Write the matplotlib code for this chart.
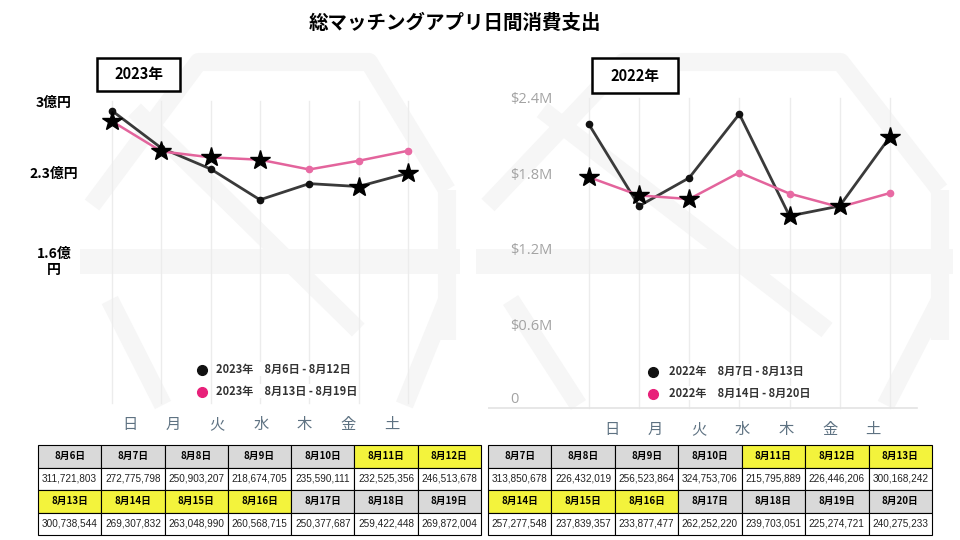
import matplotlib
matplotlib.use('Agg')
import matplotlib.pyplot as plt
from matplotlib.patches import Rectangle
import numpy as np

plt.rcParams['font.family'] = ['Noto Sans CJK JP', 'DejaVu Sans']

#****************************************
#******* Data
#****************************************
title = '総マッチングアプリ日間消費支出'
weekdays = ['日', '月', '火', '水', '木', '金', '土']
obon = ['8月11日', '8月12日', '8月13日', '8月14日', '8月15日', '8月16日']

dates_2023_w1 = ['8月6日', '8月7日', '8月8日', '8月9日', '8月10日', '8月11日', '8月12日']
spend_2023_w1 = [311721803, 272775798, 250903207, 218674705, 235590111, 232525356, 246513678]
dates_2023_w2 = ['8月13日', '8月14日', '8月15日', '8月16日', '8月17日', '8月18日', '8月19日']
spend_2023_w2 = [300738544, 269307832, 263048990, 260568715, 250377687, 259422448, 269872004]

dates_2022_w1 = ['8月7日', '8月8日', '8月9日', '8月10日', '8月11日', '8月12日', '8月13日']
spend_2022_w1 = [313850678, 226432019, 256523864, 324753706, 215795889, 226446206, 300168242]
dates_2022_w2 = ['8月14日', '8月15日', '8月16日', '8月17日', '8月18日', '8月19日', '8月20日']
spend_2022_w2 = [257277548, 237839357, 233877477, 262252220, 239703051, 225274721, 240275233]

legend_2023 = ['2023年\u30008月6日 - 8月12日', '2023年\u30008月13日 - 8月19日']
legend_2022 = ['2022年\u30008月7日 - 8月13日', '2022年\u30008月14日 - 8月20日']
yticklabels_2023 = ['3億円', '2.3億円', '1.6億\n円']
yticklabels_2022 = [r'\$2.4M', r'\$1.8M', r'\$1.2M', r'\$0.6M', '0']

black = '#3a3a3a'
pink = '#e3649c'
wm = '#f6f6f6'

W, H = 960, 540
fig = plt.figure(figsize=(W/100, H/100), dpi=100)

def add_ax(x0, y0, x1, y1):
    # pixel box -> figure fraction
    return fig.add_axes([x0/W, 1 - y1/H, (x1 - x0)/W, (y1 - y0)/H])

def pixel_layer():
    layer = fig.add_axes([0, 0, 1, 1])
    layer.set_xlim(0, W)
    layer.set_ylim(H, 0)
    layer.axis('off')
    layer.patch.set_alpha(0)
    return layer

# background layer (watermark)
bg = pixel_layer()

def watermark(x0, x1):
    def X(u):
        return x0 + u*(x1 - x0)
    kw = dict(color=wm, lw=13, solid_capstyle='butt', zorder=0)
    bg.plot([X(0), X(0.3), X(0.78), X(1)], [205, 62, 62, 190], **kw)
    bg.plot([X(1), X(1)], [190, 340], **kw)
    bg.plot([X(0), X(1)], [261, 261], lw=18, color=wm, zorder=0)
    bg.plot([X(0.12), X(0.75)], [110, 330], **kw)
    bg.plot([X(0.05), X(0.2)], [300, 405], **kw)
    bg.plot([X(1), X(0.88)], [300, 405], **kw)

watermark(92, 447)
watermark(488, 940)

fig.text(455/W, 1 - 23/H, title, ha='center', va='center', fontsize=14,
         fontweight='bold')

def draw_week(ax, values, dates, color, dot_color, lw):
    x = np.arange(len(values))
    v = np.array(values)
    hol = np.array([d in obon for d in dates])
    ax.plot(x, v, color=color, lw=lw, zorder=2)
    ax.plot(x[~hol], v[~hol], 'o', ms=4.5, color=dot_color, zorder=3)
    ax.plot(x[hol], v[hol], '*', ms=15, color='black', zorder=5)

def day_axis(x0, x1, y):
    dax = add_ax(x0, y, x1, y + 1)
    dax.set_xlim(-0.5, 6.5)
    dax.set_xticks(range(7))
    dax.set_xticklabels(weekdays, fontsize=11, color='#5e7282')
    dax.tick_params(axis='x', length=0, pad=0)
    dax.set_yticks([])
    for s in dax.spines.values():
        s.set_visible(False)
    dax.patch.set_alpha(0)

#****************************************
#******* 2023 panel
#****************************************
ax1 = add_ax(95, 55, 470, 410)
ax1.patch.set_alpha(0)
for s in ax1.spines.values():
    s.set_visible(False)
ax1.set_xlim(-0.345, 7.26)
ax1.set_ylim(-1e6, 370e6)
for i in range(7):
    ax1.axvline(i, ymin=0.02, ymax=0.87, color='#ececec', lw=1, zorder=0)
draw_week(ax1, spend_2023_w1, dates_2023_w1, black, '#111111', 2)
draw_week(ax1, spend_2023_w2, dates_2023_w2, pink, '#e86aa3', 1.8)
ax1.set_xticks([])
ax1.set_yticks([321.8e6, 247.6e6, 156.7e6])
ax1.set_yticklabels(yticklabels_2023, fontsize=10, fontweight='bold')
for lbl in ax1.get_yticklabels():
    lbl.set_ha('center')
    lbl.set_multialignment('center')
ax1.tick_params(axis='y', length=0, pad=29.5)
day_axis(108, 414, 415)

#****************************************
#******* 2022 panel
#****************************************
ax2 = add_ax(488, 55, 940, 410)
ax2.patch.set_alpha(0)
for s in ax2.spines.values():
    s.set_visible(False)
ax2.set_xlim(-2.01, 7.0)
ax2.set_ylim(8.5e6, 387.8e6)
for i in range(7):
    ax2.axvline(i, ymin=0.006, ymax=0.88, color='#ececec', lw=1, zorder=0)
ax2.axhline(10.7e6, xmin=0, xmax=0.95, color='#e3e3e3', lw=1.2, zorder=0)
draw_week(ax2, spend_2022_w1, dates_2022_w1, black, '#111111', 2)
draw_week(ax2, spend_2022_w2, dates_2022_w2, pink, '#e86aa3', 1.8)
ax2.set_xticks([])
ax2.set_yticks([341.9e6, 260.7e6, 180.6e6, 99.4e6, 21.4e6])
ax2.set_yticklabels(yticklabels_2022, fontsize=10.5, color='#a3a3a3',
                    family=['Open Sans', 'DejaVu Sans'])
for lbl in ax2.get_yticklabels():
    lbl.set_ha('left')
ax2.tick_params(axis='y', length=0, pad=-15.8)
day_axis(590, 895, 420)

#****************************************
#******* Overlay: year boxes and legends
#****************************************
top = pixel_layer()

def year_box(x0, y0, w, h, label):
    top.add_patch(Rectangle((x0, y0), w, h, fc='white', ec='black', lw=1.8))
    top.text(x0 + w/2, y0 + h/2, label, ha='center', va='center',
             fontsize=10.5, fontweight='bold')

def legend(xd, yd, xt, labels, colors):
    for y, lab, c in zip(yd, labels, colors):
        top.plot(xd, y, 'o', ms=7, color=c)
        top.text(xt, y - 1, lab, ha='left', va='center', fontsize=8,
                 fontweight='bold', color='#333333',
                 bbox=dict(fc='white', ec='none', pad=0.5))

year_box(97, 58, 83, 33, '2023年')
legend(202, [370, 392], 216, legend_2023, ['#111111', '#e8217a'])
year_box(592, 58, 86, 35, '2022年')
legend(653, [372, 394], 669, legend_2022, ['#111111', '#e8217a'])

#****************************************
#******* Tables
#****************************************
def table(x0, x1, d1, v1, d2, v2):
    tax = add_ax(x0, 445, x1, 535)
    tax.axis('off')
    fmt = lambda vals: ['{:,}'.format(v) for v in vals]
    rows = [d1, fmt(v1), d2, fmt(v2)]
    def hcol(d):
        return '#f3f33c' if d in obon else '#d9d9d9'
    colours = [[hcol(d) for d in d1], ['white']*7,
               [hcol(d) for d in d2], ['white']*7]
    tbl = tax.table(cellText=rows, cellColours=colours, cellLoc='center',
                    bbox=[0, 0, 1, 1])
    tbl.auto_set_font_size(False)
    for (r, c), cell in tbl.get_celld().items():
        cell.set_edgecolor('black')
        cell.set_linewidth(0.8)
        t = cell.get_text()
        if r % 2 == 0:
            t.set_fontfamily(['Noto Sans CJK JP', 'DejaVu Sans'])
            t.set_fontsize(7)
            t.set_fontweight('bold')
        else:
            t.set_fontfamily(['Liberation Sans', 'DejaVu Sans'])
            t.set_fontsize(7.2)
            t.set_color('#222222')

table(38, 481, dates_2023_w1, spend_2023_w1, dates_2023_w2, spend_2023_w2)
table(488, 932, dates_2022_w1, spend_2022_w1, dates_2022_w2, spend_2022_w2)

plt.savefig('out.png', dpi=100)
